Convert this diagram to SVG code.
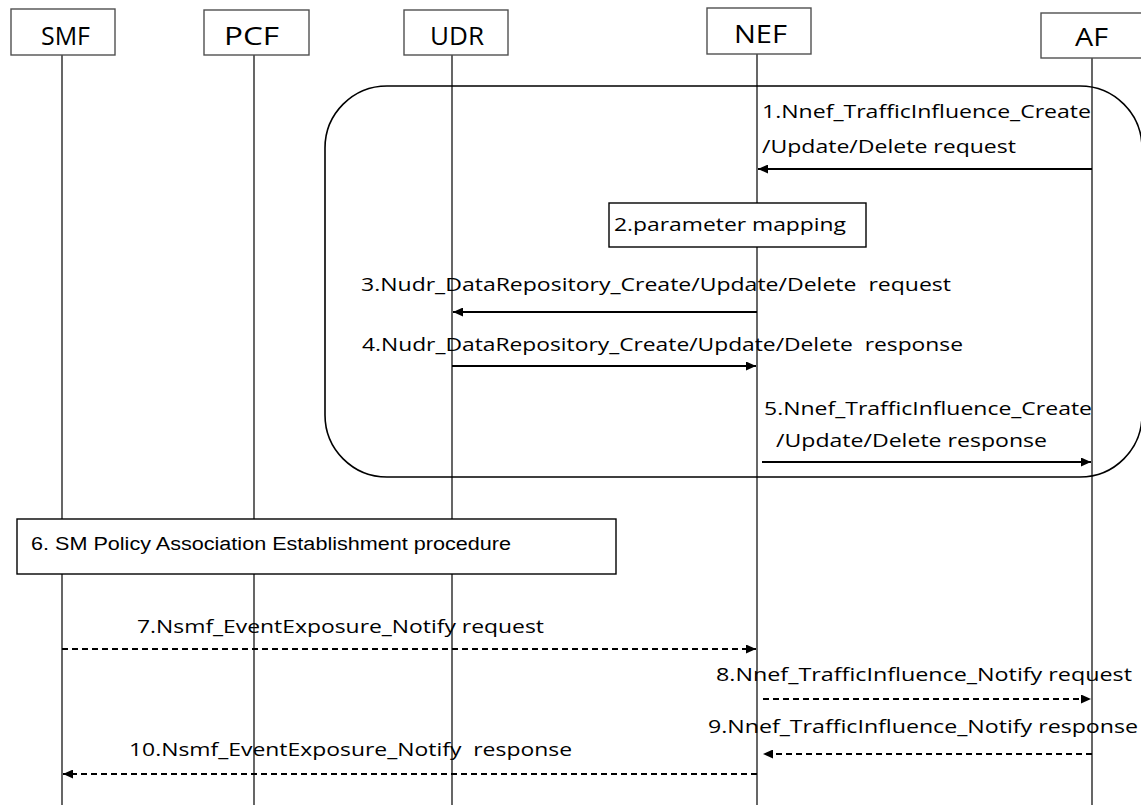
<svg xmlns="http://www.w3.org/2000/svg" width="1141" height="805" viewBox="0 0 1141 805">
<style>
.nodebox{fill:#fff;stroke:#505050;stroke-width:1.4}
.life{stroke:#000;stroke-width:1.2;fill:none}
.lbl{font-family:"Open Sans","Liberation Sans",Arial,sans-serif;font-size:25px;fill:#000}
.msg{font-family:"Open Sans","Liberation Sans",Arial,sans-serif;font-size:19px;fill:#000}
.arial{font-family:"Liberation Sans",Arial,sans-serif;font-size:18px;fill:#000}
.arr{stroke:#000;stroke-width:2;fill:none;marker-end:url(#ah)}
.dash{stroke-dasharray:6 4}
.frame{fill:none;stroke:#000;stroke-width:1.6}
.proc{fill:#fff;stroke:#000;stroke-width:1.4}
</style>
<defs>
<marker id="ah" markerUnits="userSpaceOnUse" markerWidth="10" markerHeight="9" refX="10" refY="4.5" orient="auto">
<path d="M0,0 L10,4.5 L0,9 z" fill="#000"/>
</marker>
</defs>
<rect width="1141" height="805" fill="#fff"/>
<rect id="frame" class="frame" x="325" y="86" width="817" height="391" rx="62" ry="62"/>
<g id="lifelines">
<line class="life" x1="62" y1="55" x2="62" y2="805"/>
<line class="life" x1="254" y1="55" x2="254" y2="805"/>
<line class="life" x1="452" y1="55" x2="452" y2="805"/>
<line class="life" x1="757" y1="54" x2="757" y2="805"/>
<line class="life" x1="1092" y1="58" x2="1092" y2="805"/>
</g>
<g id="SMF"><rect class="nodebox" x="11" y="9" width="104" height="46"/><text class="lbl" x="41" y="45" textLength="49" lengthAdjust="spacingAndGlyphs">SMF</text></g>
<g id="PCF"><rect class="nodebox" x="204" y="10" width="105" height="45"/><text class="lbl" x="224" y="45" textLength="55" lengthAdjust="spacingAndGlyphs">PCF</text></g>
<g id="UDR"><rect class="nodebox" x="404" y="10" width="104" height="45"/><text class="lbl" x="430" y="45" textLength="54" lengthAdjust="spacingAndGlyphs">UDR</text></g>
<g id="NEF"><rect class="nodebox" x="707" y="8" width="104" height="46"/><text class="lbl" x="734" y="43" textLength="53" lengthAdjust="spacingAndGlyphs">NEF</text></g>
<g id="AF"><rect class="nodebox" x="1041" y="13" width="110" height="45"/><text class="lbl" x="1075" y="46" textLength="33" lengthAdjust="spacingAndGlyphs">AF</text></g>
<g id="step2"><rect class="proc" x="609" y="203" width="257" height="44"/><text class="msg" x="614" y="231" textLength="232" lengthAdjust="spacingAndGlyphs">2.parameter mapping</text></g>
<g id="step6"><rect class="proc" x="17" y="519" width="599" height="55"/><text class="arial" x="31" y="550" textLength="480" lengthAdjust="spacingAndGlyphs">6. SM Policy Association Establishment procedure</text></g>
<g id="connectors">
<line class="arr" x1="1092" y1="169" x2="758" y2="169"/>
<line class="arr" x1="757" y1="312" x2="453" y2="312"/>
<line class="arr" x1="452" y1="366" x2="756" y2="366"/>
<line class="arr" x1="762" y1="462" x2="1091" y2="462"/>
<line class="arr dash" x1="62" y1="649" x2="756" y2="649"/>
<line class="arr dash" x1="763" y1="699" x2="1091" y2="699"/>
<line class="arr dash" x1="1092" y1="754" x2="763" y2="754"/>
<line class="arr dash" x1="757" y1="774" x2="63" y2="774"/>
</g>
<g id="labels">
<text class="msg" x="762" y="118" textLength="329" lengthAdjust="spacingAndGlyphs">1.Nnef_TrafficInfluence_Create</text>
<text class="msg" x="762" y="153" textLength="254" lengthAdjust="spacingAndGlyphs">/Update/Delete request</text>
<text class="msg" x="361" y="291" textLength="590" lengthAdjust="spacingAndGlyphs" xml:space="preserve">3.Nudr_DataRepository_Create/Update/Delete  request</text>
<text class="msg" x="362" y="351" textLength="601" lengthAdjust="spacingAndGlyphs" xml:space="preserve">4.Nudr_DataRepository_Create/Update/Delete  response</text>
<text class="msg" x="764" y="415" textLength="328" lengthAdjust="spacingAndGlyphs">5.Nnef_TrafficInfluence_Create</text>
<text class="msg" x="776" y="447" textLength="271" lengthAdjust="spacingAndGlyphs">/Update/Delete response</text>
<text class="msg" x="137" y="633" textLength="407" lengthAdjust="spacingAndGlyphs">7.Nsmf_EventExposure_Notify request</text>
<text class="msg" x="716" y="681" textLength="416" lengthAdjust="spacingAndGlyphs">8.Nnef_TrafficInfluence_Notify request</text>
<text class="msg" x="708" y="733" textLength="430" lengthAdjust="spacingAndGlyphs">9.Nnef_TrafficInfluence_Notify response</text>
<text class="msg" x="129" y="756" textLength="443" lengthAdjust="spacingAndGlyphs" xml:space="preserve">10.Nsmf_EventExposure_Notify  response</text>
</g>
</svg>
